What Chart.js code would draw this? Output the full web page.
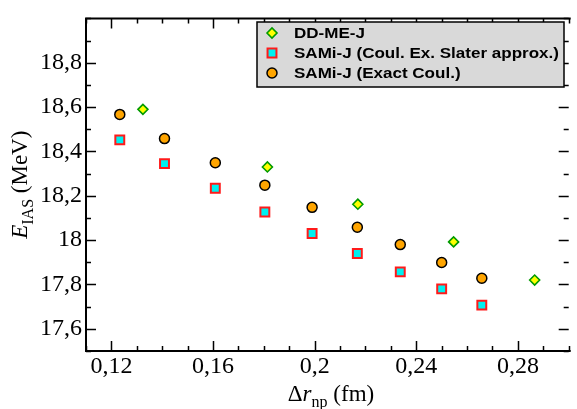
<!DOCTYPE html>
<html>
<head>
<meta charset="utf-8">
<script src="https://cdn.jsdelivr.net/npm/chart.js@4.4.0/dist/chart.umd.min.js"></script>
<style>
  html, body { margin: 0; padding: 0; background: #fff; }
  #wrap { position: relative; width: 577px; height: 409px; }
</style>
</head>
<body>
<div id="wrap"><canvas id="grafico"></canvas></div>
<script>
// Valores: Δr_np (fm) e E_IAS (MeV)
const rnpDDME = [0.1324, 0.1814, 0.2170, 0.2547, 0.2866];
const eiasDDME = [18.59, 18.33, 18.162, 17.992, 17.82];
const rnpSAMi = [0.1233, 0.1409, 0.1609, 0.1804, 0.1990, 0.2168, 0.2337, 0.2500, 0.2658];
const eiasSlater = [18.452, 18.345, 18.234, 18.127, 18.03, 17.94, 17.857, 17.78, 17.707];
const eiasExact = [18.567, 18.458, 18.349, 18.248, 18.148, 18.058, 17.98, 17.899, 17.828];
const xTicks = [0.12, 0.16, 0.2, 0.24, 0.28];
const yTicks = [17.6, 17.8, 18, 18.2, 18.4, 18.6, 18.8];
const legendLabels = ['DD-ME-J', 'SAMi-J (Coul. Ex. Slater approx.)', 'SAMi-J (Exact Coul.)'];

const xMinorStep = 0.01;
const yMinorStep = 0.1;
const serif = '"Liberation Serif", "Times New Roman", serif';

function pares(xs, ys) {
    return xs.map((x, i) => ({ x: x, y: ys[i] }));
}

function virgula(v) {
    return String(Math.round(v * 1000) / 1000).replace('.', ',');
}

const estilos = [
    { pointStyle: 'rectRot', radius: 5, backgroundColor: '#ffff00', borderColor: '#009a00', borderWidth: 1.6 },
    { pointStyle: 'rect', radius: 6.3, backgroundColor: '#00f0f0', borderColor: '#ff1a1a', borderWidth: 2 },
    { pointStyle: 'circle', radius: 5, backgroundColor: '#ffa500', borderColor: '#000000', borderWidth: 1.5 }
];

// Moldura com marcas internas (o lado direito fica cortado na borda da imagem)
const molduraPlugin = {
    id: 'moldura',
    afterDatasetsDraw(chart) {
        const { ctx, chartArea: a, scales } = chart;
        const sx = scales.x, sy = scales.y;
        ctx.save();
        ctx.strokeStyle = '#000';
        ctx.lineWidth = 1.5;
        ctx.beginPath();
        const nx = Math.round((sx.max - sx.min) / xMinorStep);
        for (let i = 0; i <= nx; i++) {
            const v = sx.min + i * xMinorStep;
            const major = xTicks.some(t => Math.abs(t - v) < 1e-6);
            const len = major ? 10 : 5;
            const px = Math.round(sx.getPixelForValue(v)) + 0.5;
            ctx.moveTo(px, a.bottom); ctx.lineTo(px, a.bottom - len);
            ctx.moveTo(px, a.top); ctx.lineTo(px, a.top + len);
        }
        const ny = Math.round((sy.max - sy.min) / yMinorStep);
        for (let i = 0; i <= ny; i++) {
            const v = sy.min + i * yMinorStep;
            const major = yTicks.some(t => Math.abs(t - v) < 1e-6);
            const len = major ? 10 : 5;
            const py = Math.round(sy.getPixelForValue(v)) + 0.5;
            ctx.moveTo(a.left, py); ctx.lineTo(a.left + len, py);
            ctx.moveTo(a.right, py); ctx.lineTo(a.right - len, py);
        }
        ctx.stroke();
        ctx.lineWidth = 2;
        ctx.beginPath();
        ctx.moveTo(a.right + 2, a.top);
        ctx.lineTo(a.left, a.top);
        ctx.lineTo(a.left, a.bottom);
        ctx.lineTo(a.right + 2, a.bottom);
        ctx.stroke();
        ctx.restore();
    }
};

// Texto com subscrito (títulos dos eixos)
function textoRico(ctx, partes, x, y) {
    let total = 0;
    partes.forEach(p => { ctx.font = p.font; total += ctx.measureText(p.t).width; });
    let cx = x - total / 2;
    partes.forEach(p => {
        ctx.font = p.font;
        ctx.fillText(p.t, cx, y + (p.dy || 0));
        cx += ctx.measureText(p.t).width;
    });
}

const titulosPlugin = {
    id: 'titulos',
    afterDraw(chart) {
        const { ctx, chartArea: a } = chart;
        ctx.save();
        ctx.fillStyle = '#000';
        ctx.textBaseline = 'alphabetic';
        textoRico(ctx, [
            { t: 'Δ', font: '23px ' + serif },
            { t: 'r', font: 'italic 23px ' + serif },
            { t: 'np', font: '16px ' + serif, dy: 6 },
            { t: ' (fm)', font: '23px ' + serif }
        ], 331, 401);
        ctx.translate(27, (a.top + a.bottom) / 2);
        ctx.rotate(-Math.PI / 2);
        textoRico(ctx, [
            { t: 'E', font: 'italic 23px ' + serif },
            { t: 'IAS', font: '16px ' + serif, dy: 6 },
            { t: ' (MeV)', font: '23px ' + serif }
        ], 0, 0);
        ctx.restore();
    }
};

// Legenda em caixa cinza
const legendaPlugin = {
    id: 'legenda',
    afterDraw(chart) {
        const ctx = chart.ctx;
        ctx.save();
        ctx.fillStyle = '#d9d9d9';
        ctx.fillRect(257, 22, 307, 65);
        ctx.strokeStyle = '#000';
        ctx.lineWidth = 1.5;
        ctx.strokeRect(257, 22, 307, 65);
        ctx.font = 'bold 14.5px "Liberation Sans", Arial, sans-serif';
        ctx.textBaseline = 'middle';
        // o texto da referência é mais largo: estica na horizontal
        const maior = Math.max(...legendLabels.map(t => ctx.measureText(t).width));
        const esticar = 265 / maior;
        legendLabels.forEach((txt, i) => {
            const y = 33 + i * 20;
            const e = estilos[i];
            ctx.fillStyle = e.backgroundColor;
            ctx.strokeStyle = e.borderColor;
            ctx.lineWidth = e.borderWidth;
            Chart.helpers.drawPoint(ctx, { pointStyle: e.pointStyle, radius: e.radius, borderWidth: e.borderWidth }, 272, y);
            ctx.save();
            ctx.translate(294, y + 1);
            ctx.scale(esticar, 1);
            ctx.fillStyle = '#000';
            ctx.fillText(txt, 0, 0);
            ctx.restore();
        });
        ctx.restore();
    }
};

const ctx = document.getElementById('grafico').getContext('2d');
new Chart(ctx, {
    type: 'scatter',
    data: {
        datasets: [
            Object.assign({ label: legendLabels[0], data: pares(rnpDDME, eiasDDME) }, estilos[0]),
            Object.assign({ label: legendLabels[1], data: pares(rnpSAMi, eiasSlater) }, estilos[1]),
            Object.assign({ label: legendLabels[2], data: pares(rnpSAMi, eiasExact) }, estilos[2])
        ]
    },
    options: {
        responsive: true,
        maintainAspectRatio: false,
        animation: false,
        layout: { padding: { top: 7, right: -2, left: 0, bottom: 0 } },
        plugins: {
            legend: { display: false },
            tooltip: { enabled: false }
        },
        scales: {
            x: {
                type: 'linear',
                min: 0.11,
                max: 0.30,
                afterBuildTicks: s => { s.ticks = xTicks.map(v => ({ value: v })); },
                afterFit: s => { s.height = 58; },
                grid: { display: false, drawTicks: false },
                border: { display: false },
                ticks: {
                    padding: 1,
                    color: '#000',
                    font: { family: serif, size: 24 },
                    callback: v => virgula(v),
                    maxRotation: 0
                }
            },
            y: {
                type: 'linear',
                min: 17.5,
                max: 19.0,
                afterBuildTicks: s => { s.ticks = yTicks.map(v => ({ value: v })); },
                afterFit: s => { s.width = 86; },
                grid: { display: false, drawTicks: false },
                border: { display: false },
                ticks: {
                    padding: 4,
                    color: '#000',
                    font: { family: serif, size: 24 },
                    callback: v => virgula(v)
                }
            }
        }
    },
    plugins: [molduraPlugin, titulosPlugin, legendaPlugin]
});
</script>
</body>
</html>
